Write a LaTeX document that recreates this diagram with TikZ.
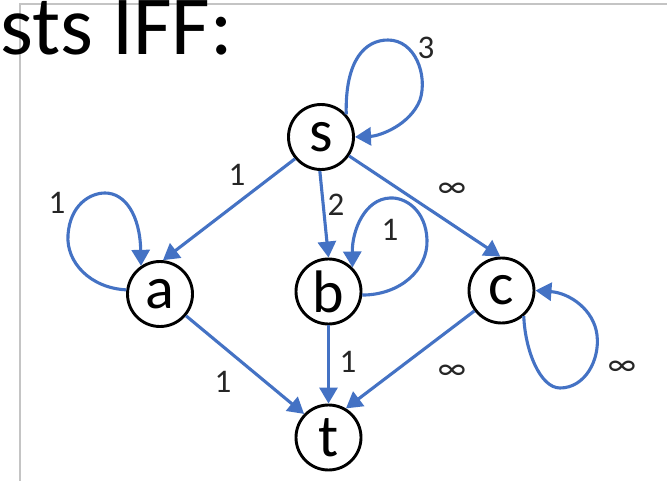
\documentclass[tikz,border=0pt]{standalone}
\usepackage{fontspec}
\setmainfont{Carlito}
\usetikzlibrary{arrows.meta,shapes.geometric}
\definecolor{edgeblue}{HTML}{4472C4}
\definecolor{framegray}{HTML}{C4C4C4}
\tikzset{
  vtx/.style={circle,draw=black,line width=2.9pt,minimum size=65pt,inner sep=0pt,font=\fontsize{60}{60}\selectfont},
  edg/.style={draw=edgeblue,line width=3.1pt,-{Triangle[length=16pt,width=18pt]}},
  lbl/.style={font=\fontsize{33}{33}\selectfont,inner sep=0pt,text=black!85}
}
\begin{document}
\begin{tikzpicture}[x=1pt,y=-1pt]
\useasboundingbox (0,0) rectangle (667,481);
\fill[white] (0,0) rectangle (667,481);
% frame lines
\coordinate (fa) at (20,481);
\coordinate (fb) at (20,4);
\coordinate (fc) at (667,4);
\draw[framegray,line width=1.2pt] (fa) -- (fb) -- (fc);
% heading
\node[anchor=base west,inner sep=0pt,font=\fontsize{84}{84}\selectfont] (head) at (0,55) {sts IFF:};
% vertices
\node[vtx] (s) at (321,137) {s};
\node[vtx] (a) at (160,294) {a};
\node[vtx] (b) at (328.5,291.5) {b};
\node[vtx] (c) at (501.5,290.5) {c};
\node[vtx] (t) at (328.5,437.5) {t};
% edges
\draw[edg] (s.220) -- (a.85);
\draw[edg] (s.268) -- (b.90);
\draw[edg] (s.-34) -- (c.92);
\draw[edg] (a.-40) -- (t.136);
\draw[edg] (b.270) -- (t.90);
\draw[edg] (c.217) -- (t.59);
% loops
\draw[edg] (s.42) .. controls (345,60) and (365,40) .. (388,40) .. controls (415,40) and (428,75) .. (420,100) .. controls (410,125) and (380,136) .. (s.0);
\draw[edg] (a.173) .. controls (90,288) and (66,262) .. (68,235) .. controls (70,205) and (90,193) .. (105,193) .. controls (125,193) and (140,215) .. (a.124);
\draw[edg] (b.-6) .. controls (400,295) and (428,270) .. (427,240) .. controls (426,210) and (405,197) .. (390,198) .. controls (365,199) and (352,230) .. (b.45);
\draw[edg] (c.-49) .. controls (525,350) and (540,388) .. (560,388) .. controls (585,388) and (600,360) .. (597,335) .. controls (594,310) and (570,293) .. (c.0);
% labels
\node[lbl] (l1) at (426,48) {3};
\node[lbl] (l2) at (237,175) {1};
\node[lbl] (l3) at (336,205) {2};
\node[lbl] (l4) at (452,190) {∞};
\node[lbl] (l5) at (57,203) {1};
\node[lbl] (l6) at (390,230) {1};
\node[lbl] (l7) at (223,382) {1};
\node[lbl] (l8) at (348,362) {1};
\node[lbl] (l9) at (452,372) {∞};
\node[lbl] (l10) at (622,368) {∞};
\end{tikzpicture}
\end{document}
